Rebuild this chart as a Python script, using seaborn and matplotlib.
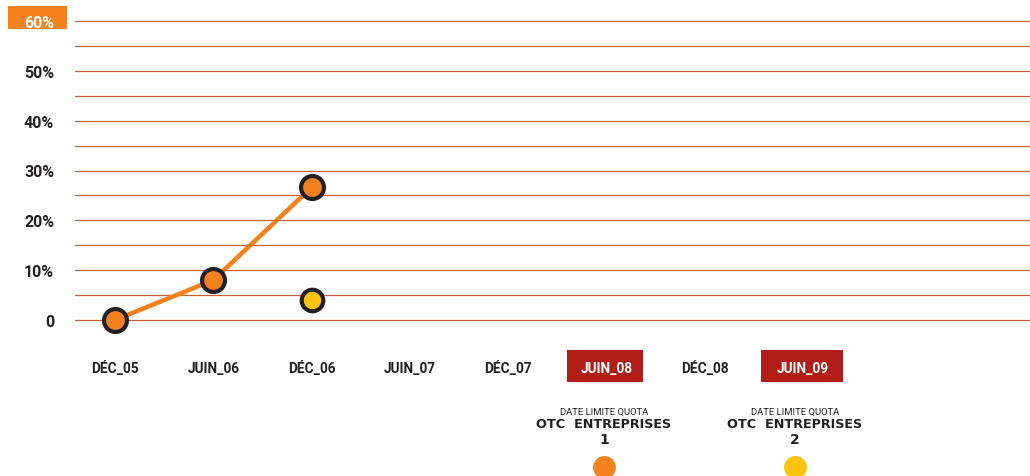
import numpy as np
import pandas as pd
import matplotlib
matplotlib.use("Agg")
import matplotlib.pyplot as plt
import seaborn as sns
from matplotlib.patches import Rectangle

# ---- data ----
categories = ["DÉC_05", "JUIN_06", "DÉC_06", "JUIN_07", "DÉC_07", "JUIN_08", "DÉC_08", "JUIN_09"]
series1 = [0, 8, 26.6]          # OTC entreprises 1 (orange)
series2_cat = ["DÉC_06"]
series2 = [4]                   # OTC entreprises 2 (yellow)
yticks = [0, 10, 20, 30, 40, 50, 60]
ytick_labels = ["0", "10%", "20%", "30%", "40%", "50%", "60%"]
highlight = ["JUIN_08", "JUIN_09"]
annot_titles = ["DATE LIMITE QUOTA", "DATE LIMITE QUOTA"]
annot_names = ["OTC  ENTREPRISES", "OTC  ENTREPRISES"]
annot_nums = ["1", "2"]

ORANGE = "#f5821f"
YELLOW = "#fdc311"
RED = "#b01c16"
DARK = "#231f20"
GRID = "#c4613a"

sns.set_theme(style="white")
plt.rcParams["font.family"] = ["Roboto", "DejaVu Sans"]

fig = plt.figure(figsize=(10.30, 4.77), dpi=100)
ax = fig.add_axes([75 / 1030, (477 - 321) / 477, 955 / 1030, 299 / 477])

pos = {c: i for i, c in enumerate(categories)}
df1 = pd.DataFrame({"x": [pos[c] for c in categories[:len(series1)]], "y": series1})
df2 = pd.DataFrame({"x": [pos[c] for c in series2_cat], "y": series2})

for g in np.arange(0, 60.01, 5):
    ax.axhline(g, color=GRID, lw=0.9, zorder=1, clip_on=False)

sns.lineplot(data=df1, x="x", y="y", ax=ax, color=ORANGE, lw=3.3, zorder=3,
             marker="o", markersize=16.5, markerfacecolor=ORANGE,
             markeredgecolor=DARK, markeredgewidth=3, clip_on=False)
sns.scatterplot(data=df2, x="x", y="y", ax=ax, color=YELLOW, s=240,
                edgecolor=DARK, linewidth=3, zorder=4, clip_on=False)

ax.set_xlim(-0.407, 9.31)
ax.set_ylim(0, 60)
for s in ax.spines.values():
    s.set_visible(False)
ax.set_xlabel("")
ax.set_ylabel("")
ax.grid(False)

ax.set_yticks(yticks)
ax.set_yticklabels(ytick_labels)
ax.tick_params(axis="y", length=0, pad=15, labelsize=11.5, labelcolor=DARK)
for lab in ax.get_yticklabels():
    lab.set_fontweight("bold")
ax.get_yticklabels()[-1].set_color("white")
ax.add_patch(Rectangle((-0.0702, 0.973), 0.0618, 0.077, transform=ax.transAxes,
                       facecolor=ORANGE, edgecolor="none", clip_on=False, zorder=0))

ax.set_xticks(range(len(categories)))
ax.set_xticklabels(categories)
ax.tick_params(axis="x", length=0, pad=34.5, labelsize=9.8, labelcolor=DARK)
for lab in ax.get_xticklabels():
    lab.set_fontweight("bold")
    lab.set_va("center")
    if lab.get_text() in highlight:
        lab.set_color("white")

box_x = {"JUIN_08": (0.5152, 0.0796), "JUIN_09": (0.7183, 0.0859)}
for c in highlight:
    x0, w = box_x[c]
    ax.add_patch(Rectangle((x0, -0.2074), w, 0.107, transform=ax.transAxes,
                           facecolor=RED, edgecolor="none", clip_on=False, zorder=0))

annot_x = [604, 795]
for i, xp in enumerate(annot_x):
    fx = xp / 1030
    fig.text(fx, 1 - 412 / 477, annot_titles[i], ha="center", va="center",
             fontsize=6.8, color=DARK, family=["Roboto", "DejaVu Sans"])
    fig.text(fx, 1 - 425 / 477, annot_names[i], ha="center", va="center",
             fontsize=9.2, fontweight="bold", color=DARK, family=["DejaVu Sans"])
    fig.text(fx, 1 - 440 / 477, annot_nums[i], ha="center", va="center",
             fontsize=10, fontweight="bold", color=DARK, family=["DejaVu Sans"])
    ax.plot([fx], [(477 - 468) / 477], marker="o", markersize=16.5,
            color=[ORANGE, YELLOW][i], markeredgewidth=0,
            transform=fig.transFigure, clip_on=False)

fig.savefig("out.png", dpi=100)
